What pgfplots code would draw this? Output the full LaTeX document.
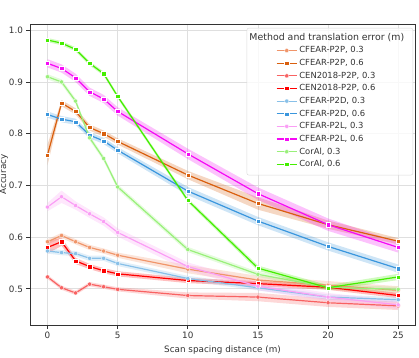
\documentclass[border=0pt]{standalone}
\usepackage{fontspec}
\setmainfont{DejaVu Sans}
\usepackage{pgfplots}
\pgfplotsset{compat=1.18}
\usepgfplotslibrary{fillbetween}
\usepackage{pgfplotstable}

\definecolor{pponeA}{HTML}{F0956A}
\definecolor{pptwoA}{HTML}{D95F0E}
\definecolor{cenA}{HTML}{F86262}
\definecolor{cenB}{HTML}{FF0000}
\definecolor{pdA}{HTML}{88C0E8}
\definecolor{pdB}{HTML}{3A96DD}
\definecolor{plA}{HTML}{FA9EF5}
\definecolor{plB}{HTML}{F50AF5}
\definecolor{coA}{HTML}{99F07A}
\definecolor{coB}{HTML}{44EE00}
\definecolor{spine}{HTML}{333333}

% x = scan spacing, y = accuracy, e = half width of band
\pgfplotstableread{
x y e
0 0.591 0.005
1 0.603 0.005
2 0.591 0.005
3 0.580 0.005
4 0.573 0.005
5 0.565 0.005
10 0.538 0.008
15 0.517 0.008
20 0.507 0.008
25 0.497 0.008
}\tPPa
\pgfplotstableread{
x y e
0 0.759 0.020
1 0.859 0.006
2 0.843 0.006
3 0.812 0.006
4 0.800 0.006
5 0.785 0.006
10 0.720 0.008
15 0.665 0.012
20 0.624 0.008
25 0.592 0.006
}\tPPb
\pgfplotstableread{
x y e
0 0.523 0.004
1 0.502 0.004
2 0.492 0.004
3 0.509 0.004
4 0.504 0.004
5 0.499 0.004
10 0.487 0.006
15 0.484 0.008
20 0.473 0.008
25 0.467 0.008
}\tCEa
\pgfplotstableread{
x y e
0 0.580 0.012
1 0.591 0.008
2 0.554 0.006
3 0.543 0.005
4 0.535 0.005
5 0.529 0.005
10 0.516 0.005
15 0.510 0.005
20 0.503 0.005
25 0.487 0.005
}\tCEb
\pgfplotstableread{
x y e
0 0.573 0.005
1 0.570 0.005
2 0.568 0.005
3 0.559 0.005
4 0.559 0.005
5 0.549 0.005
10 0.520 0.005
15 0.502 0.005
20 0.484 0.005
25 0.479 0.005
}\tPDa
\pgfplotstableread{
x y e
0 0.837 0.006
1 0.828 0.006
2 0.823 0.006
3 0.797 0.006
4 0.786 0.006
5 0.768 0.006
10 0.689 0.008
15 0.631 0.008
20 0.582 0.008
25 0.539 0.008
}\tPDb
\pgfplotstableread{
x y e
0 0.658 0.008
1 0.678 0.012
2 0.661 0.008
3 0.645 0.008
4 0.630 0.008
5 0.609 0.008
10 0.543 0.008
15 0.505 0.008
20 0.484 0.008
25 0.469 0.008
}\tPLa
\pgfplotstableread{
x y e
0 0.936 0.008
1 0.926 0.008
2 0.908 0.008
3 0.881 0.008
4 0.867 0.008
5 0.843 0.008
10 0.761 0.010
15 0.684 0.012
20 0.624 0.012
25 0.580 0.010
}\tPLb
\pgfplotstableread{
x y e
0 0.910 0.005
1 0.900 0.005
2 0.863 0.005
3 0.792 0.005
4 0.752 0.005
5 0.697 0.005
10 0.576 0.005
15 0.528 0.005
20 0.503 0.005
25 0.499 0.005
}\tCOa
\pgfplotstableread{
x y e
0 0.981 0.004
1 0.975 0.004
2 0.963 0.004
3 0.936 0.004
4 0.916 0.004
5 0.872 0.004
10 0.671 0.004
15 0.540 0.005
20 0.502 0.005
25 0.523 0.006
}\tCOb

% #1 table, #2 path id, #3 colour, #4 mark
\newcommand{\series}[4]{%
  \addplot[draw=none, name path=#2u, forget plot] table[x=x, y expr=\thisrow{y}+\thisrow{e}] {#1};
  \addplot[draw=none, name path=#2l, forget plot] table[x=x, y expr=\thisrow{y}-\thisrow{e}] {#1};
  \addplot[fill=#3, fill opacity=0.25, draw=none, forget plot] fill between[of=#2u and #2l];
  \addplot[#3, line width=1.2pt, mark=#4, mark size=2.1pt,
    mark options={solid, fill=#3, draw=white, line width=0.3pt}] table[x=x, y=y] {#1};
}

\begin{document}
\begin{tikzpicture}
\begin{axis}[
  scale only axis, width=385pt, height=301pt,
  xmin=-1.25, xmax=26.2, ymin=0.43, ymax=1.012,
  xtick={0,5,10,15,20,25},
  ytick={0.5,0.6,0.7,0.8,0.9,1.0},
  yticklabel style={/pgf/number format/fixed, /pgf/number format/fixed zerofill, /pgf/number format/precision=1},
  /pgf/number format/assume math mode=true,
  tick label style={font=\fontsize{8.8}{10}\selectfont, text=spine},
  label style={font=\fontsize{8.8}{10}\selectfont, text=spine},
  xlabel={Scan spacing distance (m)},
  ylabel={Accuracy},
  ylabel style={at={(axis description cs:-0.068,0.5)}, anchor=center},
  grid=major, grid style={color=gray!25, line width=0.8pt},
  axis line style={spine, line width=0.8pt},
  tick style={spine, line width=0.8pt},
  tick align=outside, major tick length=3.5pt,
  xtick pos=bottom, ytick pos=left,
  legend style={at={(rel axis cs:0.631,0.9385)}, anchor=north west, draw=none, fill=none,
    font=\fontsize{8.4}{10}\selectfont, text=spine, row sep=0.9pt},
  legend cell align=left,
  legend image code/.code={%
    \draw[mark repeat=2, mark phase=2] plot coordinates {(0pt,0pt) (10pt,0pt) (20pt,0pt)};},
]
\series{\tPPa}{ppa}{pponeA}{*}
\series{\tPPb}{ppb}{pptwoA}{square*}
\series{\tCEa}{cea}{cenA}{*}
\series{\tCEb}{ceb}{cenB}{square*}
\series{\tPDa}{pda}{pdA}{*}
\series{\tPDb}{pdb}{pdB}{square*}
\series{\tPLa}{pla}{plA}{*}
\series{\tPLb}{plb}{plB}{square*}
\series{\tCOa}{coa}{coA}{*}
\series{\tCOb}{cob}{coB}{square*}
\node[draw=gray!30, fill=white, fill opacity=0.8, rounded corners=2pt,
  minimum width=166pt, minimum height=147pt, anchor=north east, inner sep=0pt]
  at (rel axis cs:0.995,0.987) {};
\node[font=\fontsize{9.4}{10}\selectfont, text=spine] at (rel axis cs:0.771,0.955)
  {Method and translation error (m)};
\legend{CFEAR-P2P{,} 0.3, CFEAR-P2P{,} 0.6, CEN2018-P2P{,} 0.3, CEN2018-P2P{,} 0.6,
  CFEAR-P2D{,} 0.3, CFEAR-P2D{,} 0.6, CFEAR-P2L{,} 0.3, CFEAR-P2L{,} 0.6,
  CorAl{,} 0.3, CorAl{,} 0.6}
\end{axis}
\pgfresetboundingbox
\path[use as bounding box] (-30pt,-32pt) rectangle (389pt,325pt);
\end{tikzpicture}
\end{document}
